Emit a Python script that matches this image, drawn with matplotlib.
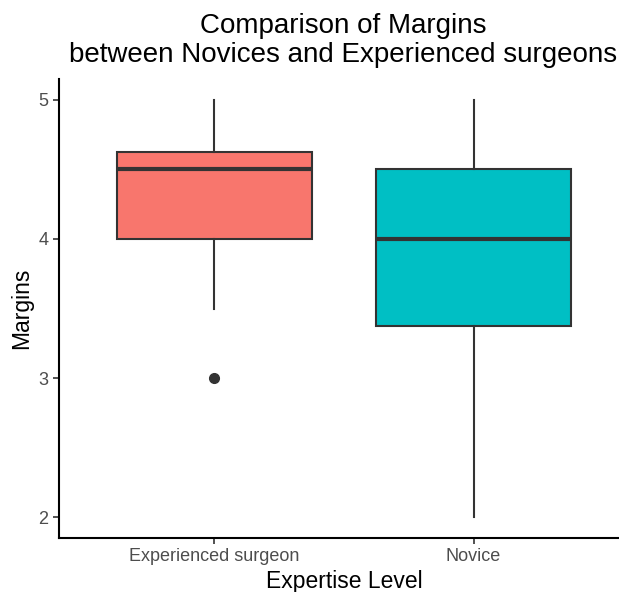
import matplotlib.pyplot as plt

plt.rcParams['font.family'] = ['Liberation Sans', 'DejaVu Sans']

# Box summaries per group (ggplot-style)
groups = ['Experienced surgeon', 'Novice']
whisker_low = [3.5, 2.0]
q1 = [4.0, 3.375]
median = [4.5, 4.0]
q3 = [4.625, 4.5]
whisker_high = [5.0, 5.0]
outliers = [[3.0], []]
fills = ['#F8766D', '#00BFC4']

stats = []
for i, g in enumerate(groups):
    stats.append({'label': g, 'whislo': whisker_low[i], 'q1': q1[i], 'med': median[i],
                  'q3': q3[i], 'whishi': whisker_high[i], 'fliers': outliers[i]})

fig = plt.figure(figsize=(6.19, 5.92), dpi=100)
ax = fig.add_axes([59 / 619, 54 / 592, 570 / 619, 459 / 592])

edge = '#333333'
bp = ax.bxp(stats, positions=[1, 2], widths=0.75, patch_artist=True,
            showcaps=False,
            boxprops=dict(edgecolor=edge, linewidth=1.5),
            medianprops=dict(color=edge, linewidth=3),
            whiskerprops=dict(color=edge, linewidth=1.5),
            flierprops=dict(marker='o', markerfacecolor=edge, markeredgecolor=edge,
                            markersize=7))
for patch, c in zip(bp['boxes'], fills):
    patch.set_facecolor(c)

ax.set_xlim(0.4, 2.6)
ax.set_ylim(1.85, 5.15)
ax.set_yticks([2, 3, 4, 5])
ax.set_xticks([1, 2])
ax.set_xticklabels(groups)
for s in ['top', 'right']:
    ax.spines[s].set_visible(False)
for s in ['left', 'bottom']:
    ax.spines[s].set_linewidth(1.5)
    ax.spines[s].set_color('black')
ax.tick_params(axis='both', colors='#333333', labelcolor='#4d4d4d', labelsize=13,
               length=4, width=1.2)

ax.set_xlabel('Expertise Level', fontsize=16.5, labelpad=3)
ax.set_ylabel('Margins', fontsize=16.5, labelpad=4)
fig.text(0.555, 0.978, 'Comparison of Margins\nbetween Novices and Experienced surgeons',
         ha='center', va='top', fontsize=20, linespacing=1.15)

fig.savefig('out.png', dpi=100)
